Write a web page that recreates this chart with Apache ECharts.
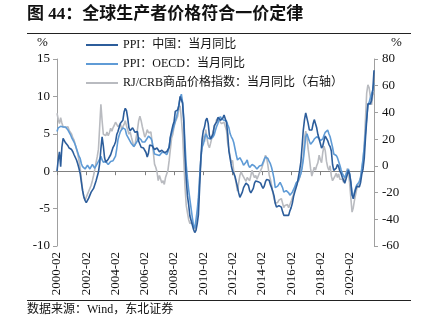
<!DOCTYPE html>
<html><head><meta charset="utf-8">
<script src="https://cdn.jsdelivr.net/npm/echarts@6/dist/echarts.min.js"></script>
<style>html,body{margin:0;padding:0;background:#fff}#c{width:422px;height:325px}</style>
</head><body><div id="c"></div>
<script>
// monthly, 2000-02 .. 2021-10
const startYear = 2000, startMonth = 2, nPoints = 261;
const ppiChina = [
0.0,1.5,2.6,0.6,3.2,4.4,4.2,3.8,3.6,3.4,3.1,
3.0,2.9,2.6,2.2,2.0,1.5,1.0,0.4,-0.3,-1.5,-2.6,-3.4,
-3.9,-4.2,-4.1,-3.6,-3.2,-2.8,-2.6,-2.3,-1.8,-1.3,-0.7,-0.1,
1.0,3.0,4.6,3.4,1.8,1.2,1.4,1.6,1.8,2.2,2.7,3.2,
3.5,3.9,4.9,5.3,5.5,6.4,6.4,6.8,7.9,8.4,8.1,7.1,
5.8,5.4,5.6,5.8,5.9,5.2,5.2,5.3,4.0,3.9,3.2,3.2,
3.1,3.0,2.5,1.9,2.4,3.5,3.6,3.4,3.5,2.9,2.8,3.1,
3.3,2.6,2.7,2.8,2.8,2.5,2.4,2.6,2.7,3.2,4.6,5.4,
6.1,6.6,8.0,8.1,8.2,8.8,10.0,10.1,9.1,6.6,2.0,-1.1,
-3.3,-4.5,-6.0,-6.6,-7.2,-7.8,-8.2,-7.9,-7.0,-5.8,-2.1,1.7,
4.3,5.4,5.9,6.8,7.1,6.4,4.8,4.3,4.3,5.0,6.1,5.9,
6.6,7.2,7.3,6.8,6.8,7.1,7.5,7.3,6.5,5.0,2.7,1.7,
0.7,0.0,-0.3,-0.7,-1.4,-2.1,-2.9,-3.5,-3.6,-2.8,-2.2,-1.9,
-1.6,-1.6,-1.9,-2.6,-2.9,-2.7,-2.3,-1.6,-1.3,-1.5,-1.4,-1.4,
-1.6,-2.0,-2.3,-2.0,-1.4,-1.1,-0.9,-1.2,-1.8,-2.2,-2.7,-3.3,
-4.3,-4.8,-4.6,-4.6,-4.6,-4.8,-5.4,-5.9,-5.9,-5.9,-5.9,-5.9,
-5.3,-4.9,-4.3,-3.4,-2.8,-2.6,-1.7,-0.8,0.1,1.2,3.3,5.5,
6.9,7.8,7.6,6.4,5.5,5.5,5.5,6.3,6.9,6.9,5.8,4.9,
4.3,3.7,3.1,3.4,4.1,4.7,4.6,4.1,3.6,3.3,2.7,0.9,
0.1,0.1,0.4,0.9,0.6,0.0,-0.3,-0.8,-1.2,-1.6,-1.4,-0.5,
0.1,-0.4,-1.5,-3.1,-3.7,-3.0,-2.4,-2.0,-2.1,-2.1,-1.5,-0.4,
0.3,1.7,4.4,6.8,9.0,8.8,9.0,9.5,10.7,13.5
];
const ppiOECD = [
5.3,5.8,5.6,6.0,6.2,5.9,5.7,5.9,5.8,5.5,5.2,
4.9,4.5,4.2,3.9,3.5,3.0,2.5,2.0,1.7,1.0,0.6,0.5,
0.3,0.5,0.8,0.6,0.3,0.5,0.9,0.7,0.4,0.6,1.0,1.3,
1.6,2.0,1.5,1.2,1.0,1.3,1.1,0.9,1.0,1.3,1.2,1.4,
1.5,2.0,3.0,4.2,4.8,5.3,5.5,5.8,6.0,5.6,4.9,4.6,
4.4,4.0,3.7,3.5,3.3,3.5,3.8,4.1,4.5,4.6,4.2,3.9,
4.1,3.9,4.0,4.4,4.7,4.6,4.4,4.0,3.0,2.3,2.1,2.2,
2.0,2.1,2.3,2.5,2.7,2.5,2.4,2.2,2.6,3.3,4.5,5.0,
5.5,6.1,6.7,7.2,8.0,8.9,9.8,10.3,9.2,7.0,3.6,0.8,
-1.0,-2.5,-3.8,-5.0,-6.2,-7.3,-7.6,-6.5,-5.2,-3.5,-0.8,1.7,
3.2,3.6,4.3,5.0,5.0,4.4,4.3,4.3,4.4,4.6,4.9,5.5,
6.0,6.4,7.0,7.3,7.0,6.8,6.8,6.6,6.7,6.2,5.8,5.0,
4.6,4.3,3.8,3.0,2.2,1.5,1.4,1.8,1.5,1.2,0.8,1.0,
1.2,1.5,0.8,0.5,0.6,0.9,1.0,0.7,0.6,0.3,0.5,0.7,
0.9,0.8,1.2,1.6,1.9,2.0,1.7,1.3,1.0,0.5,-0.2,-1.0,
-2.2,-2.0,-2.0,-1.8,-1.5,-1.6,-2.2,-2.8,-3.0,-2.6,-2.7,-2.9,
-3.2,-3.1,-2.8,-2.6,-2.1,-1.6,-1.6,-1.2,-0.8,-0.3,0.4,1.5,
3.0,4.6,5.0,4.8,4.0,3.6,3.7,4.0,4.3,4.4,4.6,4.5,
4.4,4.1,4.0,4.3,4.8,5.2,5.4,5.5,5.0,4.6,4.4,3.2,
2.3,2.2,2.1,1.8,1.3,0.8,0.2,-0.3,-0.5,-0.9,-0.8,0.0,
0.3,-0.3,-1.5,-3.2,-3.5,-2.8,-2.2,-1.8,-1.6,-1.4,-0.8,0.4,
1.7,3.2,5.2,7.1,8.8,9.2,9.8,10.0,10.9,11.8
];
const crb = [
39.4,34.9,31.6,36.0,32.1,29.3,30.4,28.7,28.2,29.3,26.5,
25.4,23.7,20.9,19.2,15.8,12.5,9.1,4.1,-1.5,-10.0,-18.4,-23.4,
-25.7,-24.5,-21.2,-19.0,-17.8,-14.5,-11.1,-7.2,-2.7,2.4,6.9,12.5,
29.3,46.1,33.8,23.7,24.8,22.6,25.4,22.6,24.8,28.2,25.9,28.7,
30.4,32.7,31.0,29.3,28.2,31.6,27.1,29.3,31.0,33.8,29.9,27.1,
23.7,25.4,21.5,18.1,14.2,15.8,21.5,27.1,33.8,37.2,33.8,29.3,
28.2,21.5,23.7,27.1,24.8,25.9,25.4,18.1,10.2,1.3,-1.0,-4.4,
-11.1,-7.2,-7.7,-12.8,-11.1,-13.9,-8.8,-10.0,-3.2,4.1,12.5,20.9,
23.7,29.3,32.7,33.8,37.2,42.8,45.0,35.0,23.7,4.1,-15.6,-29.6,
-35.2,-40.3,-43.1,-43.6,-42.5,-44.2,-47.5,-44.7,-38.0,-26.8,-10.0,5.7,
15.3,22.6,18.1,27.1,20.9,15.8,13.6,17.0,20.9,25.9,28.2,31.6,
34.9,36.0,33.8,34.9,31.6,31.6,32.7,33.8,26.5,17.0,12.5,6.9,
2.4,4.1,-4.4,-8.8,-13.3,-18.9,-12.8,-7.2,-4.4,-6.6,-7.7,-10.0,
-11.6,-8.8,-7.7,-11.1,-7.2,-3.2,-6.6,-8.8,-7.2,-10.0,-7.7,-5.5,
-5.5,-1.5,1.3,4.1,8.0,5.7,0.1,-6.6,-10.0,-14.4,-20.1,-24.5,
-27.9,-26.8,-27.4,-25.7,-26.2,-24.5,-27.9,-31.3,-29.6,-30.2,-29.0,-31.3,
-30.2,-26.8,-25.7,-21.2,-17.8,-13.3,-14.4,-11.6,-8.8,-5.5,0.1,6.9,
20.9,26.0,21.5,12.5,5.7,-2.1,-7.7,-4.4,-1.0,-3.2,0.1,2.4,
8.0,4.6,2.4,10.2,14.7,11.4,3.5,-1.0,-3.2,0.1,-7.7,-11.1,
-10.0,-7.7,-5.5,-8.8,-6.0,-10.0,-11.1,-10.0,-12.2,-8.8,-6.6,-2.1,
-4.4,-12.8,-24.0,-34.6,-31.3,-25.7,-21.2,-16.7,-14.4,-13.3,-8.8,-2.7,
4.1,15.3,34.9,54.5,60.7,58.5,51.8,45.6,52.9,55.1
];
const seriesNames = ['PPI：中国：当月同比','PPI：OECD：当月同比','RJ/CRB商品价格指数：当月同比（右轴）'];
const leftTicks = {min:-10, max:15, interval:5};
const rightTicks = {min:-60, max:80, interval:20};

const categories = [];
for (let i = 0; i < nPoints; i++) {
  const k = startMonth - 1 + i;
  const y = startYear + Math.floor(k / 12);
  const m = (k % 12) + 1;
  categories.push(y + '-' + (m < 10 ? '0' + m : m));
}

const SERIF = '"Liberation Serif","Times New Roman","Noto Sans CJK SC",serif';
const axisGray = '#a0a0a0';
const chart = echarts.init(document.getElementById('c'), null, {renderer:'canvas'});
chart.setOption({
  animation: false,
  backgroundColor: '#fff',
  grid: {left: 57, right: 48, top: 59, bottom: 79, containLabel: false},
  legend: {
    orient: 'vertical', left: 86, top: 38, padding: 0,
    icon: 'rect', itemWidth: 32, itemHeight: 2, itemGap: 5,
    textStyle: {fontFamily: SERIF, fontSize: 12, lineHeight: 14, color: '#111'},
    data: seriesNames
  },
  graphic: [
    {type:'text', left: 27, top: 6, style:{text:'图 44：全球生产者价格符合一价定律', font:'bold 17px "Liberation Serif","Noto Sans CJK SC",serif', fill:'#111'}},
    {type:'line', shape:{x1:27,y1:33.5,x2:411,y2:33.5}, style:{stroke:'#222', lineWidth:1}},
    {type:'text', left: 37, top: 36, style:{text:'%', font:'13px "Liberation Serif",serif', fill:'#111'}},
    {type:'text', left: 391, top: 36, style:{text:'%', font:'13px "Liberation Serif",serif', fill:'#111'}},
    {type:'line', shape:{x1:27,y1:300.5,x2:411,y2:300.5}, style:{stroke:'#222', lineWidth:1}},
    {type:'text', left: 27, top: 304, style:{text:'数据来源：Wind，东北证券', font:'12px "Liberation Serif","Noto Sans CJK SC",serif', fill:'#111'}}
  ],
  xAxis: [
    {type:'category', data: categories, boundaryGap:false, position:'bottom',
     axisLine:{show:true, onZero:true, onZeroAxisIndex:0, lineStyle:{color:'#808080', width:1}},
     axisTick:{show:true, interval:23, length:4, lineStyle:{color:'#808080'}},
     axisLabel:{show:false}},
    {type:'category', data: categories, boundaryGap:false, position:'bottom',
     axisLine:{show:false, onZero:false}, axisTick:{show:false},
     axisLabel:{show:true, interval:23, rotate:90, margin:6, fontFamily:SERIF, fontSize:13, color:'#111'}}
  ],
  yAxis: [
    {type:'value', min:leftTicks.min, max:leftTicks.max, interval:leftTicks.interval, position:'left',
     splitLine:{show:false},
     axisLine:{show:true, lineStyle:{color:axisGray}},
     axisTick:{show:true, length:4, lineStyle:{color:axisGray}},
     axisLabel:{margin:7, fontFamily:SERIF, fontSize:13, color:'#111'}},
    {type:'value', min:rightTicks.min, max:rightTicks.max, interval:rightTicks.interval, position:'right',
     splitLine:{show:false},
     axisLine:{show:true, lineStyle:{color:axisGray}},
     axisTick:{show:true, length:4, lineStyle:{color:axisGray}},
     axisLabel:{margin:8, fontFamily:SERIF, fontSize:13, color:'#111'}}
  ],
  series: [
    {name:seriesNames[0], type:'line', xAxisIndex:0, yAxisIndex:0, data:ppiChina, symbol:'none', lineStyle:{width:1.6, color:'#2c5d9b'}, itemStyle:{color:'#2c5d9b'}, z:4},
    {name:seriesNames[1], type:'line', xAxisIndex:0, yAxisIndex:0, data:ppiOECD, symbol:'none', lineStyle:{width:1.6, color:'#5f9bd6'}, itemStyle:{color:'#5f9bd6'}, z:3},
    {name:seriesNames[2], type:'line', xAxisIndex:0, yAxisIndex:1, data:crb, symbol:'none', lineStyle:{width:1.6, color:'#b9bbc0'}, itemStyle:{color:'#b9bbc0'}, z:2}
  ]
});
</script></body></html>
